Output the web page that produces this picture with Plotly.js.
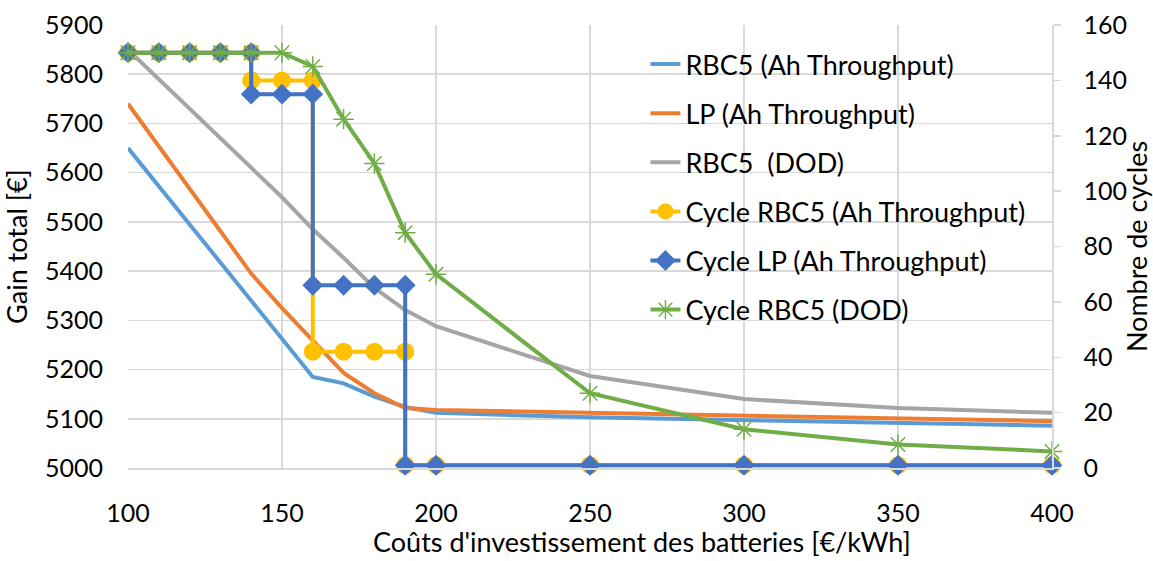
<!DOCTYPE html>
<html>
<head>
<meta charset="utf-8">
<script src="https://cdn.plot.ly/plotly-3.0.1.min.js"></script>
<style>html,body{margin:0;padding:0;background:#fff;}#chart{width:1153px;height:561px;}</style>
</head>
<body>
<div id="chart"></div>
<script>
// Data
const costs = [100,110,120,130,140,150,160,170,180,190,200,250,300,350,400];
const gainRBC5Ah = [5650,5572,5494,5416,5338,5260,5185,5172,5145,5124,5112,5103,5098,5092,5086];
const gainLPAh = [5740,5654,5567,5481,5395,5325,5260,5193,5152,5122,5118,5112,5106,5101,5095];
const gainRBC5DOD = [5850,5790,5730,5670,5610,5550,5485,5427,5366,5321,5288,5187,5140,5122,5112];

const cycleStepCosts = [100,110,120,130,140,140,150,160,160,170,180,190,190,200,250,300,350,400];
const cycleRBC5Ah = [150,150,150,150,150,140,140,140,42,42,42,42,1,1,1,1,1,1];
const cycleLPAh = [150,150,150,150,150,135,135,135,66,66,66,66,1,1,1,1,1,1];
const cycleRBC5DOD = [150,150,150,150,150,150,145,126,110,85,70,27,14,8.5,6];

const names = ["RBC5 (Ah Throughput)","LP (Ah Throughput)","RBC5\u00a0 (DOD)","Cycle RBC5 (Ah Throughput)","Cycle LP (Ah Throughput)","Cycle RBC5 (DOD)"];
const xTitle = "Coûts d'investissement des batteries [€/kWh]";
const yTitle = "Gain total [€]";
const y2Title = "Nombre de cycles";

const FONT = "Lato, 'Liberation Sans', sans-serif";
const grid = "#D9D9D9";
const LW = 4;

const traces = [
  {x: costs, y: gainRBC5Ah, name: names[0], mode: "lines", line: {color: "#5B9BD5", width: LW}, yaxis: "y", legendgroup: "a"},
  {x: costs, y: gainLPAh, name: names[1], mode: "lines", line: {color: "#ED7D31", width: LW}, yaxis: "y", legendgroup: "b"},
  {x: costs, y: gainRBC5DOD, name: names[2], mode: "lines", line: {color: "#A5A5A5", width: LW}, yaxis: "y", legendgroup: "c"},
  {x: cycleStepCosts, y: cycleRBC5Ah, name: names[3], mode: "lines+markers", line: {color: "#FFC000", width: LW},
   marker: {symbol: "circle", size: 18, color: "#FFC000"}, yaxis: "y2", cliponaxis: false, legendgroup: "d"},
  {x: cycleStepCosts, y: cycleLPAh, name: names[4], mode: "lines+markers", line: {color: "#4472C4", width: LW},
   marker: {symbol: "diamond", size: 16, color: "#4472C4"}, yaxis: "y2", cliponaxis: false, legendgroup: "e"},
  {x: costs, y: cycleRBC5DOD, name: names[5], mode: "lines+markers", line: {color: "#70AD47", width: LW},
   marker: {symbol: "asterisk-open", size: 17, color: "#70AD47", line: {color: "#70AD47", width: 1.5}}, yaxis: "y2", cliponaxis: false, legendgroup: "f"}
];

const layout = {
  width: 1153, height: 561,
  margin: {l: 128, r: 101, t: 25, b: 93, pad: 0},
  paper_bgcolor: "#fff", plot_bgcolor: "#fff",
  font: {family: FONT, size: 25, color: "#000"},
  showlegend: true,
  legend: {x: 0.56, y: 0.966, xanchor: "left", yanchor: "top", bgcolor: "rgba(0,0,0,0)",
           font: {family: FONT, size: 27, color: "#000"}, tracegroupgap: 11, traceorder: "grouped"},
  xaxis: {range: [100, 400], tickvals: [100,150,200,250,300,350,400], showgrid: true, gridcolor: grid, gridwidth: 1.5,
          showline: true, linecolor: grid, linewidth: 1.5, zeroline: false, ticks: "", ticklabelstandoff: 22,
          tickfont: {family: FONT, size: 25, color: "#000"}},
  yaxis: {range: [5000, 5900], dtick: 100, showgrid: true, gridcolor: grid, gridwidth: 1.5, zeroline: false,
          showline: false, ticks: "", ticklabelstandoff: 24,
          tickfont: {family: FONT, size: 25, color: "#000"},
          title: {text: yTitle, font: {family: FONT, size: 27, color: "#000"}, standoff: 12}},
  yaxis2: {range: [0, 160], dtick: 20, overlaying: "y", side: "right", showgrid: false, zeroline: false,
           showline: true, linecolor: grid, linewidth: 1.5, ticks: "outside", ticklen: 7, tickcolor: grid, tickwidth: 1.5,
           ticklabelstandoff: 18, tickfont: {family: FONT, size: 25, color: "#000"},
           title: {text: y2Title, font: {family: FONT, size: 27, color: "#000"}, standoff: 8}},
  annotations: [{text: xTitle, xref: "paper", yref: "paper", x: 0.556, y: -0.166, xanchor: "center", yanchor: "middle",
                 showarrow: false, font: {family: FONT, size: 27, color: "#000"}}]
};

Plotly.newPlot("chart", traces, layout, {displayModeBar: false, staticPlot: true});
</script>
</body>
</html>
